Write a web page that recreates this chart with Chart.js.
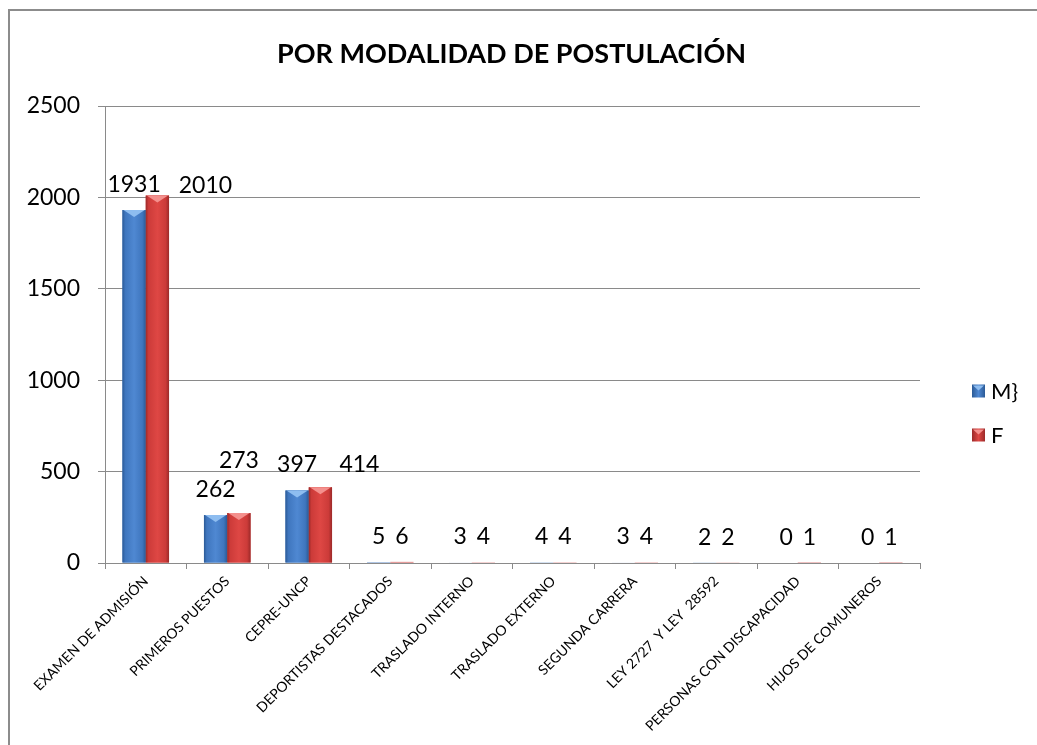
<!DOCTYPE html>
<html><head><meta charset="utf-8">
<script src="https://cdn.jsdelivr.net/npm/chart.js@4.4.0/dist/chart.umd.min.js"></script>
<style>html,body{margin:0;padding:0;background:#fff;overflow:hidden}#wrap{width:1037px;height:745px;position:relative}</style>
</head><body><div id="wrap"><canvas id="c" width="1037" height="745"></canvas></div>
<script>
const categories = ['EXAMEN DE ADMISIÓN','PRIMEROS PUESTOS','CEPRE-UNCP','DEPORTISTAS DESTACADOS','TRASLADO INTERNO','TRASLADO EXTERNO','SEGUNDA CARRERA','LEY 2727  Y LEY  28592','PERSONAS CON DISCAPACIDAD','HIJOS DE COMUNEROS'];
const seriesNames = ['M}', 'F'];
const valuesM = [1931, 262, 397, 5, 3, 4, 3, 2, 0, 0];
const valuesF = [2010, 273, 414, 6, 4, 4, 4, 2, 1, 1];
const yTicks = [0, 500, 1000, 1500, 2000, 2500];
const titleText = 'POR MODALIDAD DE POSTULACIÓN';

// label nudges (px) for the F series labels, as placed in the original
const labelNudgeF = [[48, 15], [0, -27], [39, 3], [0, 0], [0, 0], [0, 0], [0, 0], [0, 0], [0, 0], [0, 0]];

const FONT = 'Lato, "Open Sans", sans-serif';
const GRID = '#8a8a8a';
const palette = [
  {base: '#3F76BE', dark: '#2B5A96', light: '#4F88D2', top: '#8EBDF0'},
  {base: '#CC3B39', dark: '#9C2A29', light: '#DE4744', top: '#F4908D'}
];

const decor = {
  id: 'decor',
  beforeDraw(chart) {
    const ctx = chart.ctx;
    ctx.save();
    ctx.fillStyle = '#fff';
    ctx.fillRect(0, 0, chart.width, chart.height);
    ctx.strokeStyle = '#8c8c8c';
    ctx.lineWidth = 2;
    ctx.beginPath();
    ctx.moveTo(9, chart.height); ctx.lineTo(9, 10); ctx.lineTo(chart.width, 10);
    ctx.stroke();
    ctx.restore();
  },
  afterDatasetsDraw(chart) {
    const ctx = chart.ctx;
    ctx.save();
    chart.data.datasets.forEach((ds, di) => {
      const pal = palette[di];
      chart.getDatasetMeta(di).data.forEach(el => {
        const left = el.x - el.width / 2, right = el.x + el.width / 2;
        const top = Math.min(el.y, el.base), bottom = Math.max(el.y, el.base);
        const h = bottom - top;
        if (h < 1.5) return;
        const g = ctx.createLinearGradient(left, 0, right, 0);
        g.addColorStop(0, pal.dark);
        g.addColorStop(0.12, pal.base);
        g.addColorStop(0.5, pal.light);
        g.addColorStop(0.85, pal.base);
        g.addColorStop(1, pal.dark);
        ctx.fillStyle = g;
        ctx.fillRect(left, top, right - left, h);
        const th = Math.min(7, h);
        ctx.beginPath();
        ctx.moveTo(left + 1, top); ctx.lineTo(right - 1, top); ctx.lineTo(el.x, top + th);
        ctx.closePath();
        ctx.fillStyle = pal.top;
        ctx.fill();
      });
    });
    ctx.restore();
  },
  afterDraw(chart) {
    const ctx = chart.ctx;
    ctx.save();
    ctx.fillStyle = '#000';
    ctx.font = '23px ' + FONT;
    ctx.textAlign = 'center';
    ctx.textBaseline = 'alphabetic';
    chart.data.datasets.forEach((ds, di) => {
      chart.getDatasetMeta(di).data.forEach((el, i) => {
        const n = di === 1 ? labelNudgeF[i] : [0, 0];
        ctx.fillText(String(ds.data[i]), el.x + n[0], Math.min(el.y, el.base) - 18 + n[1]);
      });
    });
    // legend
    const legY = [391, 435];
    ctx.textAlign = 'left';
    ctx.textBaseline = 'middle';
    ctx.font = '22px ' + FONT;
    chart.data.datasets.forEach((ds, di) => {
      const pal = palette[di];
      const x = 972, y = legY[di] - 6.5, s = 13;
      const g = ctx.createLinearGradient(x, 0, x + s, 0);
      g.addColorStop(0, pal.dark); g.addColorStop(0.5, pal.light); g.addColorStop(1, pal.dark);
      ctx.fillStyle = g;
      ctx.fillRect(x, y, s, s);
      ctx.beginPath();
      ctx.moveTo(x + 1, y + 1); ctx.lineTo(x + s - 1, y + 1); ctx.lineTo(x + s / 2, y + 6);
      ctx.closePath();
      ctx.fillStyle = pal.top;
      ctx.fill();
      ctx.fillStyle = '#000';
      ctx.fillText(ds.label, 991, legY[di] + 1);
    });
    ctx.restore();
  }
};

new Chart(document.getElementById('c'), {
  type: 'bar',
  data: {
    labels: categories,
    datasets: [
      {label: seriesNames[0], data: valuesM, backgroundColor: palette[0].base, borderWidth: 0},
      {label: seriesNames[1], data: valuesF, backgroundColor: palette[1].base, borderWidth: 0}
    ]
  },
  options: {
    responsive: false,
    animation: false,
    devicePixelRatio: 1,
    layout: {padding: {left: 0, right: 14, top: 0, bottom: 0}},
    categoryPercentage: 2 / 3.5,
    barPercentage: 1,
    plugins: {
      legend: {display: false},
      tooltip: {enabled: false},
      title: {
        display: true,
        text: titleText,
        color: '#000',
        font: {family: FONT, size: 27, weight: 'bold', lineHeight: 1.2},
        padding: {top: 38, bottom: 35.6}
      }
    },
    scales: {
      x: {
        grid: {display: true, drawOnChartArea: false, drawTicks: true, tickLength: 6, color: GRID, offset: true},
        border: {display: true, color: GRID, width: 1},
        ticks: {autoSkip: false, minRotation: 45, maxRotation: 45, padding: 4, color: '#000', font: {family: FONT, size: 14}},
        afterFit(s) { s.height = 182; }
      },
      y: {
        min: 0, max: 2500,
        afterBuildTicks(s) { s.ticks = yTicks.map(v => ({value: v})); },
        grid: {color: GRID, tickLength: 7, drawTicks: true},
        border: {display: true, color: GRID, width: 1},
        ticks: {padding: 18, color: '#000', font: {family: FONT, size: 23}, callback: v => String(v)},
        afterFit(s) { s.width = 105; }
      },
      y2: {
        position: 'right',
        display: true,
        grid: {display: false},
        border: {display: false},
        ticks: {display: false},
        afterFit(s) { s.width = 103; }
      }
    }
  },
  plugins: [decor]
});
</script>
</body></html>
